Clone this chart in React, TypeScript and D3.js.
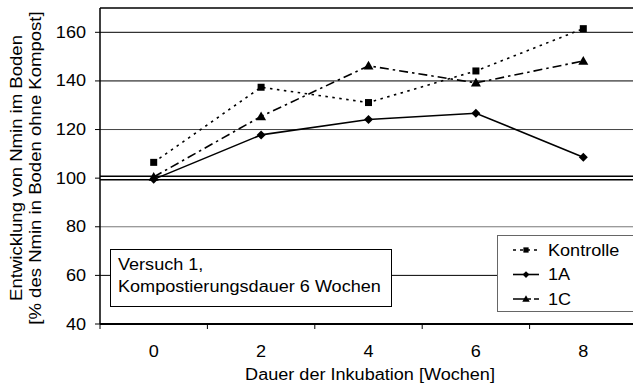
import React from "react";
import * as d3 from "d3";

const weeks = ["0", "2", "4", "6", "8"];
const kontrolle = [106.5, 137.4, 131.1, 144.1, 161.5];
const a1 = [99.5, 117.8, 124.1, 126.7, 108.6];
const c1 = [100.5, 125.4, 146.2, 139.2, 148.2];
const yTicks = [40, 60, 80, 100, 120, 140, 160];

const W = 633;
const H = 387;
const left = 100;
const right = 637;
const top = 8;
const bottom = 324;

const font = "'Liberation Sans', Arial, sans-serif";
const FS = 16;
const SX = 1.13;

// Text with a slightly widened glyph run
function T({ x, y, anchor = "start", children, rotate = false, sx = SX }: any) {
  const tr = rotate
    ? `translate(${x},${y}) rotate(-90) scale(${sx},1)`
    : `translate(${x},${y}) scale(${sx},1)`;
  return (
    <text transform={tr} textAnchor={anchor} fontSize={FS} fill="#000">
      {children}
    </text>
  );
}

export default function App() {
  const x = d3.scaleBand<string>().domain(weeks).range([left, right]);
  const y = d3.scaleLinear().domain([40, 170]).range([bottom, top]);
  const cx = (w: string) => (x(w) as number) + x.bandwidth() / 2;
  const line = d3
    .line<number>()
    .x((_, i) => cx(weeks[i]))
    .y((v) => y(v));

  const series = [
    { name: "Kontrolle", values: kontrolle, dash: "2.5,4.5", legendDash: "3,4", marker: "square" },
    { name: "1A", values: a1, dash: "none", legendDash: "none", marker: "diamond" },
    { name: "1C", values: c1, dash: "9,4,2.5,4", legendDash: "12,3,3,3", marker: "triangle" },
  ];

  const marker = (type: string, px: number, py: number, key: string, s = 1) => {
    if (type === "square")
      return <rect key={key} x={px - 3.5 * s} y={py - 3.5 * s} width={7 * s} height={7 * s} fill="#000" />;
    if (type === "diamond") {
      const r = 4.5 * s;
      return <path key={key} d={`M${px},${py - r}L${px + r},${py}L${px},${py + r}L${px - r},${py}Z`} fill="#000" />;
    }
    const r = 5 * s;
    return <path key={key} d={`M${px},${py - r}L${px + r},${py + r * 0.75}L${px - r},${py + r * 0.75}Z`} fill="#000" />;
  };

  const gridColor = (v: number) => (v === 80 ? "#777" : v === 120 ? "#444" : "#000");

  return (
    <svg width={W} height={H} style={{ position: "absolute", left: 0, top: 0, background: "#fff" }} fontFamily={font}>
      {/* plot frame top */}
      <line x1={left} x2={right} y1={top} y2={top} stroke="#000" strokeWidth={1.5} />
      {/* gridlines */}
      {yTicks
        .filter((v) => v !== 40 && v !== 100)
        .map((v) => (
          <line key={v} x1={left} x2={right} y1={y(v)} y2={y(v)} stroke={gridColor(v)} strokeWidth={1} />
        ))}
      {/* double reference line at 100 */}
      <line x1={left} x2={right} y1={y(100) - 2} y2={y(100) - 2} stroke="#000" strokeWidth={1.5} />
      <line x1={left} x2={right} y1={y(100) + 1.5} y2={y(100) + 1.5} stroke="#000" strokeWidth={1.5} />

      {/* y axis */}
      <line x1={left} x2={left} y1={top} y2={bottom} stroke="#000" strokeWidth={1.5} />
      {yTicks.map((v) => (
        <g key={v}>
          <line x1={left - 5} x2={left} y1={y(v)} y2={y(v)} stroke="#000" strokeWidth={1} />
          <T x={86} y={y(v) + 5.5} anchor="end">
            {v}
          </T>
        </g>
      ))}
      {/* x axis */}
      <line x1={left} x2={right} y1={bottom} y2={bottom} stroke="#000" strokeWidth={2} />
      {weeks.map((w, i) => (
        <line key={"t" + i} x1={x(w) as number} x2={x(w) as number} y1={bottom} y2={bottom + 5} stroke="#000" strokeWidth={1} />
      ))}
      {weeks.map((w) => (
        <T key={"l" + w} x={cx(w)} y={357} anchor="middle">
          {w}
        </T>
      ))}
      <T x={370} y={380} anchor="middle">
        Dauer der Inkubation [Wochen]
      </T>
      <T x={22} y={168} anchor="middle" rotate sx={1.16}>
        Entwicklung von Nmin im Boden
      </T>
      <T x={41} y={168} anchor="middle" rotate sx={1.16}>
        [% des Nmin in Boden ohne Kompost]
      </T>

      {/* series */}
      {series.map((s) => (
        <g key={s.name}>
          <path d={line(s.values) as string} fill="none" stroke="#000" strokeWidth={1.6} strokeDasharray={s.dash} />
          {s.values.map((v, i) => marker(s.marker, cx(weeks[i]), y(v), s.name + i))}
        </g>
      ))}

      {/* annotation box */}
      <rect x={110.5} y={249.5} width={281} height={57} fill="#fff" stroke="#000" strokeWidth={1} />
      <T x={118} y={270}>
        Versuch 1,
      </T>
      <T x={118} y={292}>
        Kompostierungsdauer 6 Wochen
      </T>

      {/* legend */}
      <rect x={497.5} y={235.5} width={150} height={76} fill="#fff" stroke="#666" strokeWidth={1} />
      {series.map((s, i) => {
        const ly = 250 + i * 24.5;
        return (
          <g key={"lg" + s.name}>
            <line x1={513} x2={539} y1={ly} y2={ly} stroke="#000" strokeWidth={1.6} strokeDasharray={s.legendDash} />
            {marker(s.marker, 526, ly, "lm" + i, 0.75)}
            <T x={548} y={ly + 5.5}>
              {s.name}
            </T>
          </g>
        );
      })}
    </svg>
  );
}
